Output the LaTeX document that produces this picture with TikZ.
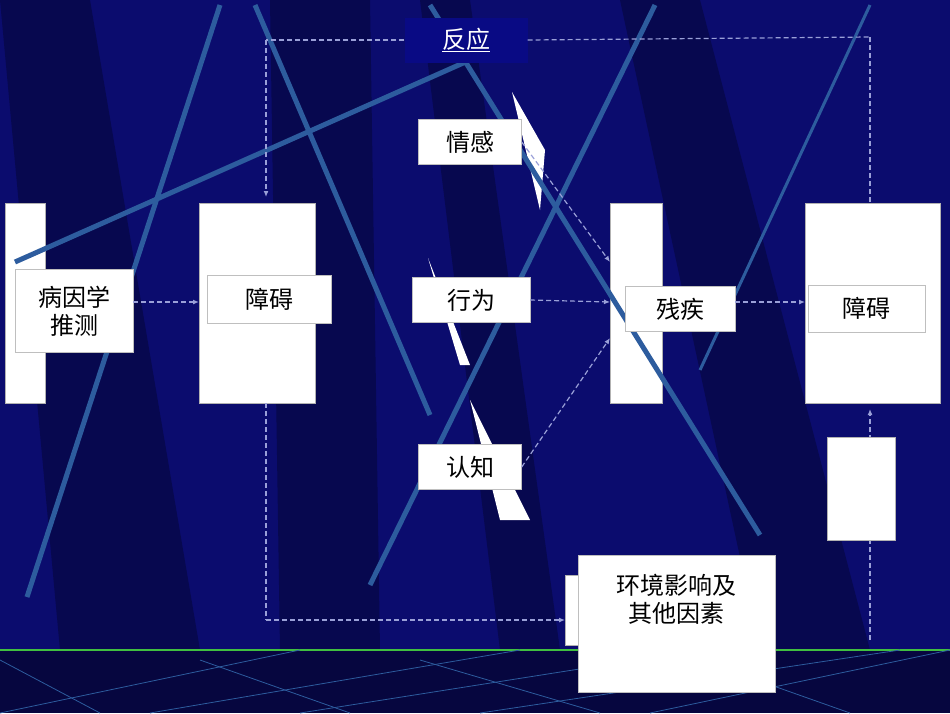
\documentclass[tikz,border=0pt]{standalone}
\usepackage{fontspec}
\newfontfamily\cjk{Noto Sans CJK SC}
\usetikzlibrary{arrows.meta}
\definecolor{bg}{HTML}{0B0C6E}
\definecolor{band}{HTML}{07084F}
\definecolor{ln}{HTML}{2D5C9E}
\definecolor{dash}{HTML}{9AA0D8}
\begin{document}
\begin{tikzpicture}[x=1pt,y=-1pt,
  wr/.style={fill=white,draw=gray!60,line width=0.6pt},
  lab/.style={fill=white,draw=gray!50,font=\cjk\fontsize{24}{28}\selectfont,text=black,inner sep=0pt,align=center},
  dl/.style={draw=dash,dashed,line width=1.2pt,dash pattern=on 5pt off 3pt},
  da/.style={dl,-{Latex[length=6pt,width=5pt]}},
  bl/.style={draw=ln,line width=5pt}]
\useasboundingbox (0,0) rectangle (950,713);
\fill[bg] (0,0) rectangle (950,713);
% dark bands
\fill[band] (0,0) -- (90,0) -- (200,650) -- (60,650) -- cycle;
\fill[band] (270,0) -- (370,0) -- (380,650) -- (280,650) -- cycle;
\fill[band] (420,0) -- (470,0) -- (560,650) -- (500,650) -- cycle;
\fill[band] (620,0) -- (700,0) -- (870,650) -- (760,650) -- cycle;
% bottom strip
\fill[band!80!black] (0,650) rectangle (950,713);
\draw[green!50!gray,line width=2pt] (0,650) -- (950,650);
\foreach \a/\b in {0/300,150/520,300/700,480/900,650/950}{
  \draw[ln,line width=0.8pt] (\a,713) -- (\b,650);}
\foreach \a/\b in {100/0,350/200,600/420,850/700}{
  \draw[ln,line width=0.8pt] (\a,713) -- (\b,660);}
% connectors behind boxes
\coordinate (t1) at (266,40);
\coordinate (t2) at (870,37);
\coordinate (b1) at (266,620);
\coordinate (r1) at (870,640);
\draw[dl] (t2) -- (870,205);
\draw[da] (r1) -- (870,409);
% white wedges
\fill[white] (512,92) -- (545,150) -- (540,210) -- cycle;
\fill[white] (428,258) -- (470,365) -- (460,365) -- cycle;
\fill[white] (470,400) -- (530,520) -- (500,520) -- cycle;
% white boxes
\draw[wr] (5,203) rectangle (45,403);
\draw[wr] (199,203) rectangle (315,403);
\draw[wr] (610,203) rectangle (662,403);
\draw[wr] (805,203) rectangle (940,403);
\draw[wr] (827,437) rectangle (895,540);
\draw[wr] (565,575) rectangle (620,645);
% blue lines
\draw[bl] (27,597) -- (220,5);
\draw[bl] (255,5) -- (430,415);
\draw[bl] (15,262) -- (470,60);
\draw[bl] (370,585) -- (655,5);
\draw[bl] (430,5) -- (760,535);
\draw[bl,line width=3pt] (700,370) -- (870,5);
% top node
\node[fill=bg!85!blue,minimum width=123pt,minimum height=45pt,inner sep=0pt,
  font=\cjk\fontsize{24}{28}\selectfont,text=white] (fy) at (466,40) {\underline{反应}};
% labels
\node[lab,minimum width=118pt,minimum height=83pt] (byx) at (74,311) {病因学\\推测};
\node[lab,minimum width=124pt,minimum height=48pt] (za1) at (269,299) {障碍};
\node[lab,minimum width=103pt,minimum height=45pt] (qg) at (470,142) {情感};
\node[lab,minimum width=118pt,minimum height=45pt] (xw) at (471,300) {行为};
\node[lab,minimum width=103pt,minimum height=45pt] (rz) at (470,467) {认知};
\node[lab,minimum width=110pt,minimum height=45pt] (cj) at (680,309) {残疾};
\node[lab,minimum width=117pt,minimum height=47pt,anchor=north west] (za2) at (808,285) {障碍};
\node[lab,minimum width=197pt,minimum height=137pt,anchor=north west] (hj) at (578,555) {};
\node[font=\cjk\fontsize{24}{28}\selectfont,align=center] at (676,599) {环境影响及\\其他因素};
% connectors
\draw[dl] (fy.west) -- (t1);
\draw[da] (t1) -- (266,197);
\draw[dl] (fy.east) -- (t2);
\draw[dl] (266,403) -- (b1);
\draw[da] (b1) -- (565,620);
\draw[da] (byx.east |- 0,302) -- (199,302);
\draw[da] (xw.east) -- (610,302);
\draw[da] (qg.east) -- (610,262);
\draw[da] (rz.east) -- (610,338);
\draw[da] (cj.east |- 0,302) -- (805,302);
\end{tikzpicture}
\end{document}
